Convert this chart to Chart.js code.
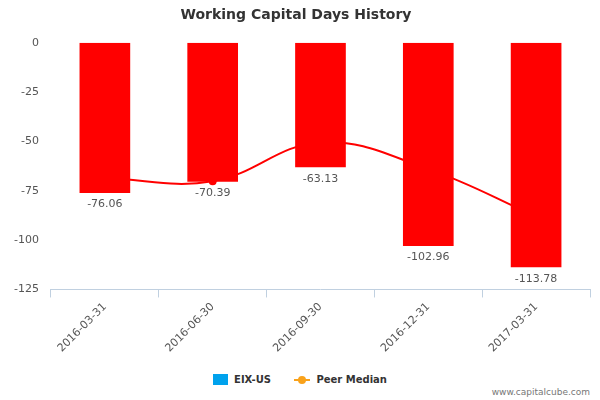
<!DOCTYPE html>
<html>
<head>
<meta charset="utf-8">
<script src="https://cdn.jsdelivr.net/npm/chart.js@4"></script>
<style>
  body { margin: 0; font-family: "DejaVu Sans", sans-serif; }
  #wrap { position: relative; width: 600px; height: 400px; }
  #legend { position: absolute; top: 373px; left: 0; width: 600px; text-align: center; font-size: 10px; font-weight: bold; color: #333; }
  #legend span { display: inline-block; vertical-align: middle; }
  #credit { position: absolute; right: 10px; top: 387px; font-size: 9px; color: #777; }
</style>
</head>
<body>
<div id="wrap">
  <canvas id="chart" width="600" height="358"></canvas>
  <div id="legend">
    <span style="width:15px;height:11px;background:#00a2ed;margin-right:6px"></span><span>EIX-US</span>
    <span style="margin-left:20px;position:relative;width:16px;height:11px">
      <span style="position:absolute;left:0;top:5px;width:16px;height:2px;background:#f9a21b"></span>
      <span style="position:absolute;left:4px;top:2px;width:8px;height:8px;border-radius:50%;background:#f9a21b"></span>
    </span><span style="margin-left:6px">Peer Median</span>
  </div>
  <div id="credit">www.capitalcube.com</div>
</div>
<script>
const categories = ["2016-03-31", "2016-06-30", "2016-09-30", "2016-12-31", "2017-03-31"];
const companyValues = [-76.06, -70.39, -63.13, -102.96, -113.78];
const peerValues = [-68.5, -70.2, -50.5, -64, -88];
const yTicks = [0, -25, -50, -75, -100, -125];

const barLabels = {
  id: "barLabels",
  afterDatasetsDraw(chart) {
    const ctx = chart.ctx;
    const meta = chart.getDatasetMeta(1);
    ctx.save();
    ctx.font = "11px 'DejaVu Sans'";
    ctx.fillStyle = "#555";
    ctx.textAlign = "center";
    ctx.textBaseline = "top";
    meta.data.forEach((bar, i) => {
      ctx.fillText(companyValues[i].toFixed(2), bar.x, bar.y + 6);
    });
    ctx.restore();
  },
};

new Chart(document.getElementById("chart"), {
  data: {
    labels: categories,
    datasets: [
      {
        type: "line",
        label: "Peer Median",
        data: peerValues,
        borderColor: "#ff0000",
        backgroundColor: "#ff0000",
        borderWidth: 2,
        tension: 0.4,
        pointRadius: 3,
        order: 2,
      },
      {
        type: "bar",
        label: "EIX-US",
        data: companyValues,
        backgroundColor: "#ff0000",
        barPercentage: 0.47,
        categoryPercentage: 1,
        order: 1,
      },
    ],
  },
  options: {
    responsive: false,
    animation: false,
    layout: { padding: { left: 2, right: 10 } },
    plugins: {
      legend: { display: false },
      tooltip: { enabled: false },
      title: {
        display: true,
        text: "Working Capital Days History",
        font: { family: "DejaVu Sans", size: 14, weight: "bold" },
        color: "#333",
        padding: { top: 7, bottom: 19 },
      },
    },
    scales: {
      y: {
        min: -125,
        max: 0,
        afterBuildTicks: (axis) => { axis.ticks = yTicks.map((v) => ({ value: v })); },
        grid: { display: false, drawTicks: false },
        border: { display: false },
        ticks: { color: "#555", font: { family: "DejaVu Sans", size: 11 }, padding: 12 },
      },
      x: {
        offset: true,
        grid: { offset: true, drawOnChartArea: false, color: "#c0d0e0", tickLength: 8 },
        border: { color: "#c0d0e0" },
        ticks: { color: "#555", font: { family: "DejaVu Sans", size: 11 }, maxRotation: 45, minRotation: 45 },
      },
    },
  },
  plugins: [barLabels],
});
</script>
</body>
</html>
